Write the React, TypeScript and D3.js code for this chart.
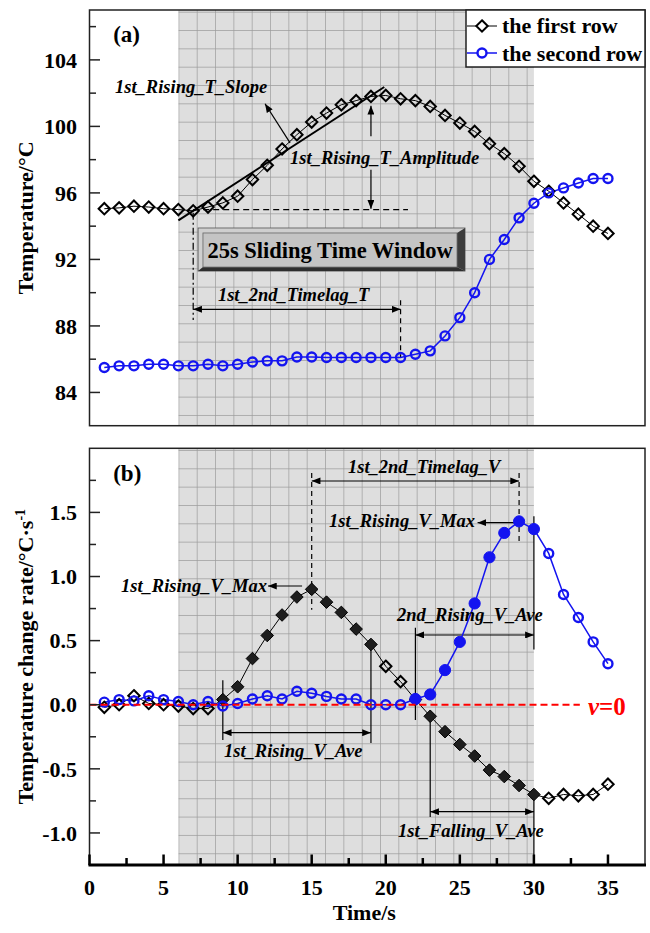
import React from "react";
import * as d3 from "d3";

// ---------------- data ----------------
const TIME = [1, 2, 3, 4, 5, 6, 7, 8, 9, 10, 11, 12, 13, 14, 15, 16, 17, 18, 19, 20, 21, 22, 23, 24, 25, 26, 27, 28, 29, 30, 31, 32, 33, 34, 35];

const T_FIRST = [95.05, 95.1, 95.2, 95.15, 95.05, 95.0, 94.92, 95.15, 95.4, 95.8, 96.8, 97.66, 98.64, 99.5, 100.26, 100.8, 101.3, 101.55, 101.8, 101.86, 101.66, 101.55, 101.2, 100.66, 100.2, 99.7, 98.96, 98.36, 97.6, 96.7, 96.1, 95.4, 94.72, 94.0, 93.56];

const T_SECOND = [85.5, 85.6, 85.6, 85.7, 85.7, 85.6, 85.6, 85.7, 85.6, 85.7, 85.83, 85.9, 85.9, 86.13, 86.13, 86.1, 86.1, 86.1, 86.1, 86.1, 86.1, 86.3, 86.5, 87.4, 88.5, 90.0, 92.0, 93.2, 94.5, 95.38, 96.0, 96.3, 96.6, 96.87, 96.87];

const V_FIRST = [-0.02, 0.0, 0.07, 0.01, 0.0, -0.01, -0.03, -0.03, 0.04, 0.14, 0.36, 0.54, 0.7, 0.84, 0.9, 0.8, 0.72, 0.59, 0.47, 0.3, 0.18, 0.04, -0.09, -0.21, -0.31, -0.4, -0.51, -0.56, -0.63, -0.7, -0.73, -0.7, -0.71, -0.7, -0.62];

const V_SECOND = [0.02, 0.04, 0.03, 0.07, 0.04, 0.025, 0.0, 0.025, -0.01, 0.01, 0.045, 0.07, 0.045, 0.105, 0.09, 0.065, 0.045, 0.045, 0.0, 0.0, 0.0, 0.045, 0.08, 0.27, 0.49, 0.79, 1.15, 1.34, 1.43, 1.37, 1.18, 0.86, 0.68, 0.49, 0.32];

const FILLED_FIRST_RANGES = [[9, 19], [22, 30]];
const FILLED_SECOND_RANGES = [[22, 30]];

const WINDOW = [6, 30];

const X_TICKS = [0, 5, 10, 15, 20, 25, 30, 35];
const X_MINOR = [2.5, 7.5, 12.5, 17.5, 22.5, 27.5, 32.5];
const T_TICKS = [84, 88, 92, 96, 100, 104];
const T_MINOR = [86, 90, 94, 98, 102, 106];
const V_TICKS = [-1.0, -0.5, 0.0, 0.5, 1.0, 1.5];
const V_MINOR = [-0.75, -0.25, 0.25, 0.75, 1.25, 1.75];

const SERIES_LABELS = ["the first row", "the second row"];

// ---------------- chart ----------------
const FONT = '"Liberation Serif", "Times New Roman", serif';
const BLUE = "#1414f0";

const diamond = (s: number) => `M0,${-s}L${s},0L0,${s}L${-s},0Z`;
const inRanges = (t: number, r: number[][]) => r.some(([a, b]) => t >= a && t <= b);

export default function App() {
  const W = 650, H = 933;
  const L = 89.5, R = 645;
  const TOP_A = 10, BOT_A = 425.7, TOP_B = 448.3, BOT_B = 865;

  const x = d3.scaleLinear().domain([0, 37.5]).range([L, R]);
  const yT = d3.scaleLinear().domain([82, 107]).range([BOT_A, TOP_A]);
  const yV = d3.scaleLinear().domain([-1.25, 2.0]).range([BOT_B, TOP_B]);

  const lineT = d3.line<number>().x((_, i) => x(TIME[i])).y((d) => yT(d));
  const lineV = d3.line<number>().x((_, i) => x(TIME[i])).y((d) => yV(d));

  const italic = { fontFamily: FONT, fontStyle: "italic", fontWeight: "bold", fontSize: 18.5 } as const;
  const ann = { stroke: "#000", strokeWidth: 1.2, fill: "none" } as const;

  const gx0 = x(WINDOW[0]);
  const gx1 = x(WINDOW[1]);

  return (
    <svg width={W} height={H} style={{ position: "absolute", left: 0, top: 0, background: "#fff" }} fontFamily={FONT}>
      <defs>
        <pattern id="gridA" patternUnits="userSpaceOnUse" x={gx0} y={11.7} width={18.33} height={18.33}>
          <rect width={18.33} height={18.33} fill="#dedede" />
          <path d="M0,0H18.33M0,0V18.33" stroke="#9c9c9c" strokeWidth={1.4} />
        </pattern>
        <pattern id="gridB" patternUnits="userSpaceOnUse" x={gx0} y={450} width={18.33} height={18.33}>
          <rect width={18.33} height={18.33} fill="#dedede" />
          <path d="M0,0H18.33M0,0V18.33" stroke="#9c9c9c" strokeWidth={1.4} />
        </pattern>
        <marker id="arr" viewBox="0 0 10 8" refX={10} refY={4} markerWidth={9} markerHeight={7} markerUnits="userSpaceOnUse" orient="auto-start-reverse">
          <path d="M0,0L10,4L0,8Z" fill="#000" />
        </marker>
      </defs>

      {/* ================= PANEL (a) ================= */}
      <rect x={gx0} y={TOP_A} width={gx1 - gx0} height={BOT_A - TOP_A} fill="url(#gridA)" />

      {/* slope line */}
      <line x1={x(6.0)} y1={yT(94.35)} x2={x(19.9)} y2={yT(102.37)} stroke="#000" strokeWidth={2} />
      {/* slope arrow */}
      <line x1={x(13.54)} y1={yT(99.01)} x2={x(11.85)} y2={yT(101.36)} {...ann} markerEnd="url(#arr)" />
      {/* amplitude arrows */}
      <line x1={x(19)} y1={yT(99.4)} x2={x(19)} y2={yT(101.24)} {...ann} markerEnd="url(#arr)" />
      <line x1={x(19)} y1={yT(97.4)} x2={x(19)} y2={yT(95.05)} {...ann} markerEnd="url(#arr)" />
      {/* dashed base line */}
      <line x1={x(7)} y1={yT(95.0)} x2={x(21.5)} y2={yT(95.0)} {...ann} strokeDasharray="6,4" />
      {/* dash-dot vertical */}
      <line x1={x(7)} y1={yT(94.8)} x2={x(7)} y2={yT(88.35)} {...ann} strokeDasharray="7,3,2,3" />
      {/* timelag T arrow */}
      <line x1={x(7)} y1={yT(89.0)} x2={x(21)} y2={yT(89.0)} {...ann} markerStart="url(#arr)" markerEnd="url(#arr)" />
      <line x1={x(21)} y1={yT(89.55)} x2={x(21)} y2={yT(86.1)} {...ann} strokeDasharray="5,4" />

      {/* series lines */}
      <path d={lineT(T_FIRST) || ""} fill="none" stroke="#000" strokeWidth={1} />
      <path d={lineT(T_SECOND) || ""} fill="none" stroke={BLUE} strokeWidth={1.5} />
      {T_FIRST.map((v, i) => (
        <path key={"ta" + i} d={diamond(5.7)} transform={`translate(${x(TIME[i])},${yT(v)})`} fill="none" stroke="#000" strokeWidth={2} />
      ))}
      {T_SECOND.map((v, i) => (
        <circle key={"tb" + i} cx={x(TIME[i])} cy={yT(v)} r={4.5} fill="none" stroke={BLUE} strokeWidth={2.4} />
      ))}

      {/* sliding window box */}
      <g>
        <rect x={x(7.33)} y={yT(93.89)} width={x(25.35) - x(7.33)} height={yT(91.3) - yT(93.89)} fill="#cfcfcf" stroke="#555" strokeWidth={0.8} />
        <polygon
          points={`${x(25.35)},${yT(93.89)} ${x(25.35)},${yT(91.3)} ${x(24.81)},${yT(91.54)} ${x(24.81)},${yT(93.59)}`}
          fill="#3c3c3c"
        />
        <polygon
          points={`${x(7.33)},${yT(91.3)} ${x(25.35)},${yT(91.3)} ${x(24.81)},${yT(91.54)} ${x(7.66)},${yT(91.54)}`}
          fill="#2e2e2e"
        />
        <rect x={x(7.66)} y={yT(93.59)} width={x(24.81) - x(7.66)} height={yT(91.54) - yT(93.59)} fill="#c4c4c4" stroke="#666" strokeWidth={0.8} />
        <text x={x(16.24)} y={yT(92.09)} textAnchor="middle" fontSize={22.5} fontWeight="bold" fill="#000">
          25s Sliding Time Window
        </text>
      </g>

      {/* panel (a) texts */}
      <text x={x(1.6)} y={yT(105.1)} fontSize={23} fontWeight="bold">(a)</text>
      <text x={x(1.72)} y={yT(102.0)} {...italic}>1st_Rising_T_Slope</text>
      <text x={x(13.54)} y={yT(97.74)} {...italic}>1st_Rising_T_Amplitude</text>
      <text x={x(8.67)} y={yT(89.5)} {...italic}>1st_2nd_Timelag_T</text>

      {/* frame (a) */}
      <rect x={L} y={TOP_A} width={R - L} height={BOT_A - TOP_A} fill="none" stroke="#222" strokeWidth={1.5} />
      {T_TICKS.map((t) => (
        <g key={"tt" + t}>
          <line x1={L} x2={L + 10.5} y1={yT(t)} y2={yT(t)} stroke="#222" strokeWidth={1.5} />
          <text x={L - 12.5} y={yT(t)} dy="0.35em" textAnchor="end" fontSize={22} fontWeight="bold">{t}</text>
        </g>
      ))}
      {T_MINOR.map((t) => (
        <line key={"tm" + t} x1={L} x2={L + 6.5} y1={yT(t)} y2={yT(t)} stroke="#222" strokeWidth={1.5} />
      ))}

      {/* legend */}
      <g>
        <rect x={466} y={TOP_A} width={R - 466} height={57} fill="#fff" stroke="#222" strokeWidth={1.5} />
        <line x1={467} x2={497} y1={26} y2={26} stroke="#000" strokeWidth={1} />
        <path d={diamond(5.7)} transform="translate(482,26)" fill="#fff" stroke="#000" strokeWidth={2} />
        <text x={502} y={33} fontSize={22} fontWeight="bold">{SERIES_LABELS[0]}</text>
        <line x1={467} x2={497} y1={53} y2={53} stroke={BLUE} strokeWidth={1.5} />
        <circle cx={482} cy={53} r={4.5} fill="#fff" stroke={BLUE} strokeWidth={2.4} />
        <text x={502} y={60.5} fontSize={22} fontWeight="bold" fill="#000">{SERIES_LABELS[1]}</text>
      </g>

      <text transform={`translate(33,${(TOP_A + BOT_A) / 2}) rotate(-90)`} textAnchor="middle" fontSize={22} fontWeight="bold">
        Temperature/°C
      </text>

      {/* ================= PANEL (b) ================= */}
      <rect x={gx0} y={TOP_B} width={gx1 - gx0} height={BOT_B - TOP_B} fill="url(#gridB)" />

      {/* timelag V */}
      <line x1={x(15)} y1={yV(1.808)} x2={x(15)} y2={yV(0.74)} {...ann} strokeDasharray="5,4" />
      <line x1={x(29)} y1={yV(1.808)} x2={x(29)} y2={yV(1.26)} {...ann} strokeDasharray="5,4" />
      <line x1={x(15)} y1={yV(1.745)} x2={x(29)} y2={yV(1.745)} {...ann} markerStart="url(#arr)" markerEnd="url(#arr)" />
      {/* max arrows */}
      <line x1={x(14.35)} y1={yV(0.926)} x2={x(12.05)} y2={yV(0.926)} {...ann} markerEnd="url(#arr)" />
      <line x1={x(28.73)} y1={yV(1.42)} x2={x(26.2)} y2={yV(1.42)} {...ann} markerEnd="url(#arr)" />
      {/* 2nd rising ave */}
      <line x1={x(22)} y1={yV(0.6)} x2={x(22)} y2={yV(-0.12)} {...ann} />
      <line x1={x(30)} y1={yV(1.47)} x2={x(30)} y2={yV(0.43)} {...ann} />
      <line x1={x(22)} y1={yV(0.544)} x2={x(30)} y2={yV(0.544)} {...ann} markerStart="url(#arr)" markerEnd="url(#arr)" />
      {/* 1st rising ave */}
      <line x1={x(9)} y1={yV(0.19)} x2={x(9)} y2={yV(-0.275)} {...ann} />
      <line x1={x(19)} y1={yV(0.466)} x2={x(19)} y2={yV(-0.298)} {...ann} />
      <line x1={x(9)} y1={yV(-0.218)} x2={x(19)} y2={yV(-0.218)} {...ann} markerStart="url(#arr)" markerEnd="url(#arr)" />
      {/* 1st falling ave */}
      <line x1={x(23)} y1={yV(-0.064)} x2={x(23)} y2={yV(-0.875)} {...ann} />
      <line x1={x(30)} y1={yV(-0.704)} x2={x(30)} y2={yV(-1.23)} {...ann} />
      <line x1={x(23)} y1={yV(-0.834)} x2={x(30)} y2={yV(-0.834)} {...ann} markerStart="url(#arr)" markerEnd="url(#arr)" />

      {/* series */}
      <path d={lineV(V_FIRST) || ""} fill="none" stroke="#000" strokeWidth={1} />
      <path d={lineV(V_SECOND) || ""} fill="none" stroke={BLUE} strokeWidth={1.5} />
      {V_FIRST.map((v, i) => {
        const f = inRanges(TIME[i], FILLED_FIRST_RANGES);
        return (
          <path key={"va" + i} d={diamond(f ? 6.3 : 5.7)} transform={`translate(${x(TIME[i])},${yV(v)})`} fill={f ? "#1e1e1e" : "none"} stroke="#000" strokeWidth={f ? 1 : 2} />
        );
      })}
      {V_SECOND.map((v, i) => {
        const f = inRanges(TIME[i], FILLED_SECOND_RANGES);
        return (
          <circle key={"vb" + i} cx={x(TIME[i])} cy={yV(v)} r={f ? 5.6 : 4.5} fill={f ? BLUE : "none"} stroke={BLUE} strokeWidth={f ? 1 : 2.4} />
        );
      })}

      {/* v = 0 */}
      <line x1={x(0)} y1={yV(0)} x2={x(33.1)} y2={yV(0)} stroke="#ff0000" strokeWidth={2} strokeDasharray="7,4" />
      <text x={x(33.65)} y={yV(-0.08)} fontSize={25} fontWeight="bold" fill="#ff0000">
        <tspan fontStyle="italic">v</tspan>=0
      </text>

      {/* panel (b) texts */}
      <text x={x(1.6)} y={yV(1.745)} fontSize={23} fontWeight="bold">(b)</text>
      <text x={x(17.45)} y={yV(1.81)} {...italic}>1st_2nd_Timelag_V</text>
      <text x={x(11.98)} y={yV(0.879)} textAnchor="end" {...italic}>1st_Rising_V_Max</text>
      <text x={x(26.02)} y={yV(1.386)} textAnchor="end" {...italic}>1st_Rising_V_Max</text>
      <text x={x(20.76)} y={yV(0.653)} {...italic}>2nd_Rising_V_Ave</text>
      <text x={x(9.08)} y={yV(-0.408)} {...italic}>1st_Rising_V_Ave</text>
      <text x={x(20.83)} y={yV(-1.032)} {...italic}>1st_Falling_V_Ave</text>

      {/* frame (b) */}
      <rect x={L} y={TOP_B} width={R - L} height={BOT_B - TOP_B} fill="none" stroke="#222" strokeWidth={1.5} />
      <line x1={L - 1} x2={R + 1} y1={BOT_B} y2={BOT_B} stroke="#000" strokeWidth={3} />
      {V_TICKS.map((t) => (
        <g key={"vt" + t}>
          <line x1={L} x2={L + 10.5} y1={yV(t)} y2={yV(t)} stroke="#222" strokeWidth={1.5} />
          <text x={L - 12.5} y={yV(t)} dy="0.35em" textAnchor="end" fontSize={22} fontWeight="bold">{t.toFixed(1)}</text>
        </g>
      ))}
      {V_MINOR.map((t) => (
        <line key={"vm" + t} x1={L} x2={L + 6.5} y1={yV(t)} y2={yV(t)} stroke="#222" strokeWidth={1.5} />
      ))}
      {X_TICKS.map((t) => (
        <g key={"xt" + t}>
          <line x1={x(t)} x2={x(t)} y1={BOT_B} y2={BOT_B - 10.5} stroke="#000" strokeWidth={2.5} />
          <text x={x(t)} y={BOT_B + 30} textAnchor="middle" fontSize={22} fontWeight="bold">{t}</text>
        </g>
      ))}
      {X_MINOR.map((t) => (
        <line key={"xm" + t} x1={x(t)} x2={x(t)} y1={BOT_B} y2={BOT_B - 7} stroke="#000" strokeWidth={2.5} />
      ))}

      <text transform={`translate(33,${(TOP_B + BOT_B) / 2}) rotate(-90)`} textAnchor="middle" fontSize={22} fontWeight="bold">
        Temperature change rate/°C·s<tspan dy={-8} fontSize={14}>-1</tspan>
      </text>
      <text x={(L + R) / 2 - 3} y={920} textAnchor="middle" fontSize={22} fontWeight="bold">Time/s</text>
    </svg>
  );
}
